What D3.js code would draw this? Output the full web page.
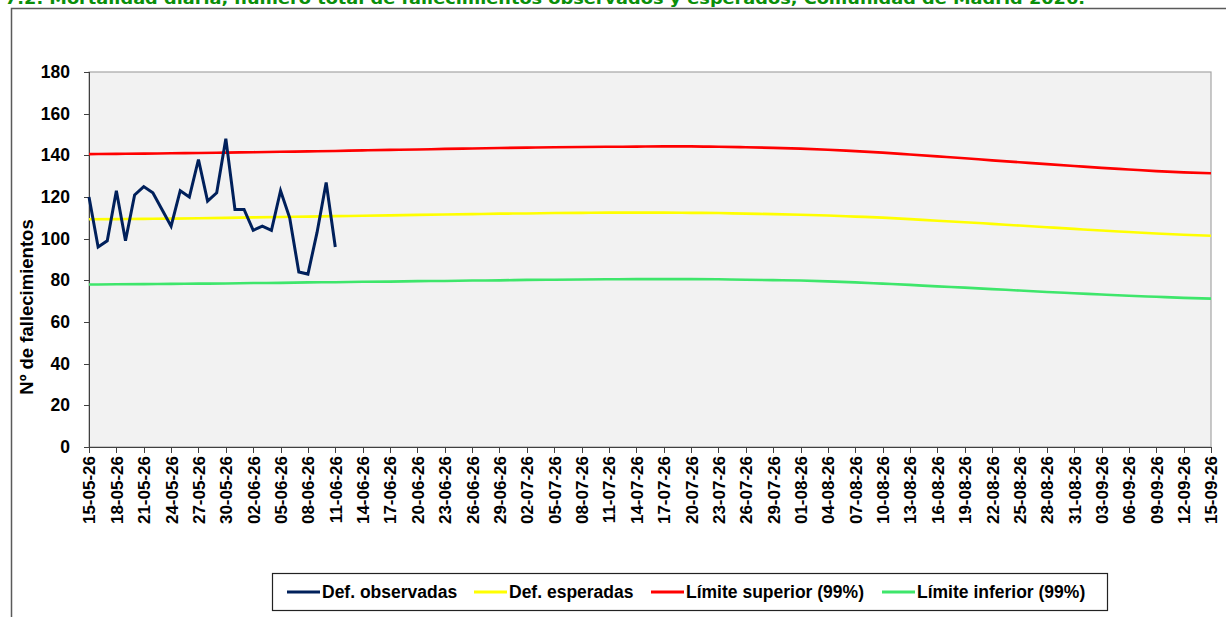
<!DOCTYPE html>
<html>
<head>
<meta charset="utf-8">
<style>
    body { margin: 0; background: #fff; }
    .axis path, .axis line { fill: none; stroke: #404040; shape-rendering: crispEdges; }
    .axis text { font-family: "Liberation Sans", Arial, sans-serif; font-weight: bold; fill: #000; }
</style>
</head>
<body>
<div id="containerChart"></div>
<script src="https://cdn.jsdelivr.net/npm/d3@7"></script>
<script>
    var titleText = "7.2.  Mortalidad diaria, número total de fallecimientos observados y esperados, Comunidad de Madrid 2026.";
    var yTitle = "Nº de fallecimientos";

    var tickLabels = ["15-05-26","18-05-26","21-05-26","24-05-26","27-05-26","30-05-26","02-06-26","05-06-26",
        "08-06-26","11-06-26","14-06-26","17-06-26","20-06-26","23-06-26","26-06-26","29-06-26","02-07-26",
        "05-07-26","08-07-26","11-07-26","14-07-26","17-07-26","20-07-26","23-07-26","26-07-26","29-07-26",
        "01-08-26","04-08-26","07-08-26","10-08-26","13-08-26","16-08-26","19-08-26","22-08-26","25-08-26",
        "28-08-26","31-08-26","03-09-26","06-09-26","09-09-26","12-09-26","15-09-26"];
    var yTicks = [0, 20, 40, 60, 80, 100, 120, 140, 160, 180];

    // daily observed deaths, from 15-05-26
    var observadas = [120, 96, 99, 123, 99, 121, 125, 122, 114, 106, 123, 120, 138, 118, 122, 148,
        114, 114, 104, 106, 104, 123, 110, 84, 83, 103, 127, 96];

    // expected and limits, one value per tick label date
    var esperadas = [109.3,109.4,109.5,109.6,109.8,110.0,110.2,110.4,110.6,110.8,111.0,111.2,111.4,111.6,
        111.8,112.0,112.1,112.3,112.4,112.5,112.5,112.5,112.4,112.3,112.0,111.8,111.5,111.1,110.6,110.1,
        109.4,108.6,107.9,107.1,106.3,105.5,104.7,103.9,103.2,102.5,101.9,101.4];
    var limSuperior = [140.6,140.7,140.8,141.0,141.1,141.3,141.5,141.7,141.9,142.1,142.4,142.6,142.8,143.1,
        143.3,143.5,143.7,143.9,144.0,144.1,144.2,144.3,144.3,144.1,143.9,143.6,143.2,142.7,142.0,141.3,
        140.4,139.5,138.6,137.6,136.7,135.8,134.9,134.0,133.2,132.4,131.8,131.4];
    var limInferior = [78.0,78.1,78.2,78.3,78.4,78.5,78.7,78.8,79.0,79.1,79.3,79.4,79.6,79.7,79.9,80.0,
        80.2,80.3,80.4,80.5,80.6,80.6,80.6,80.5,80.3,80.1,79.9,79.5,79.0,78.4,77.8,77.1,76.5,75.8,75.1,
        74.4,73.8,73.2,72.6,72.1,71.6,71.2];

    var seriesNames = ["Def. observadas", "Def. esperadas", "Límite superior (99%)", "Límite inferior (99%)"];
    var seriesColors = ["#00205b", "#ffff00", "#ff0000", "#3ee66b"];

    var width = 1226, height = 617;
    var plot = { left: 89, right: 1211, top: 72, bottom: 447 };

    var parseDate = d3.utcParse("%d-%m-%y");
    var tickDates = tickLabels.map(parseDate);

    var svg = d3.select("#containerChart")
        .append("svg")
        .attr("width", width)
        .attr("height", height)
        .style("display", "block");

    // outer frame (cut by page edge)
    svg.append("path")
        .attr("d", "M11.5," + height + " V8.5 H" + width)
        .attr("fill", "none")
        .attr("stroke", "#5a5a5a")
        .attr("stroke-width", 1.5);

    // title, partly off the top like the reference
    svg.append("text")
        .attr("x", 5)
        .attr("y", 4)
        .attr("textLength", 1080)
        .attr("lengthAdjust", "spacingAndGlyphs")
        .style("font-family", "DejaVu Sans, sans-serif")
        .style("font-weight", "bold")
        .style("font-size", "16px")
        .style("fill", "#0a8f0a")
        .text(titleText);

    var xScale = d3.scaleUtc()
        .domain([tickDates[0], tickDates[tickDates.length - 1]])
        .range([plot.left, plot.right]);

    var yScale = d3.scaleLinear()
        .domain([0, 180])
        .range([plot.bottom, plot.top]);

    // plot background
    svg.append("rect")
        .attr("x", plot.left)
        .attr("y", plot.top)
        .attr("width", plot.right - plot.left)
        .attr("height", plot.bottom - plot.top)
        .attr("fill", "#f2f2f2")
        .attr("stroke", "#a6a6a6")
        .attr("stroke-width", 1.2);

    // Y axis
    var yAxis = d3.axisLeft(yScale)
        .tickValues(yTicks)
        .tickSize(5)
        .tickPadding(14);

    svg.append("g")
        .attr("class", "axis")
        .attr("transform", "translate(" + plot.left + ",0)")
        .call(yAxis)
        .call(function (g) { g.selectAll("text").style("font-size", "17.5px"); });

    svg.append("text")
        .attr("transform", "translate(33,307) rotate(-90)")
        .style("text-anchor", "middle")
        .style("font-family", "Liberation Sans, Arial, sans-serif")
        .style("font-weight", "bold")
        .style("font-size", "18.5px")
        .text(yTitle);

    // X axis
    var xAxis = d3.axisBottom(xScale)
        .tickValues(tickDates)
        .tickFormat(function (d, i) { return tickLabels[i]; })
        .tickSize(6)
        .tickSizeOuter(0);

    svg.append("g")
        .attr("class", "axis")
        .attr("transform", "translate(0," + plot.bottom + ")")
        .call(xAxis)
        .call(function (g) {
            g.selectAll("text")
                .style("font-size", "17px")
                .style("text-anchor", "end")
                .attr("transform", "rotate(-90)")
                .attr("x", -9)
                .attr("y", 0)
                .attr("dy", "0.35em");
        });

    // lines
    var curveLine = d3.line()
        .x(function (d, i) { return xScale(tickDates[i]); })
        .y(function (d) { return yScale(d); })
        .curve(d3.curveMonotoneX);

    var obsLine = d3.line()
        .x(function (d, i) { return xScale(d3.utcDay.offset(tickDates[0], i)); })
        .y(function (d) { return yScale(d); });

    var curves = [esperadas, limSuperior, limInferior];
    curves.forEach(function (vals, k) {
        svg.append("path")
            .datum(vals)
            .attr("fill", "none")
            .attr("stroke", seriesColors[k + 1])
            .attr("stroke-width", 2.6)
            .attr("d", curveLine);
    });

    svg.append("path")
        .datum(observadas)
        .attr("fill", "none")
        .attr("stroke", seriesColors[0])
        .attr("stroke-width", 3)
        .attr("stroke-linejoin", "miter")
        .attr("d", obsLine);

    // legend
    var legend = svg.append("g");
    legend.append("rect")
        .attr("x", 272.5)
        .attr("y", 573.5)
        .attr("width", 835)
        .attr("height", 37)
        .attr("fill", "#fff")
        .attr("stroke", "#222")
        .attr("stroke-width", 1.2);

    var legendX = [287, 474, 651, 882];
    seriesNames.forEach(function (name, i) {
        legend.append("line")
            .attr("x1", legendX[i])
            .attr("x2", legendX[i] + 33)
            .attr("y1", 592)
            .attr("y2", 592)
            .attr("stroke", seriesColors[i])
            .attr("stroke-width", 3);
        legend.append("text")
            .attr("x", legendX[i] + 35)
            .attr("y", 592)
            .attr("dy", "0.35em")
            .style("font-family", "Liberation Sans, Arial, sans-serif")
            .style("font-weight", "bold")
            .style("font-size", "17.5px")
            .text(name);
    });
</script>
</body>
</html>
